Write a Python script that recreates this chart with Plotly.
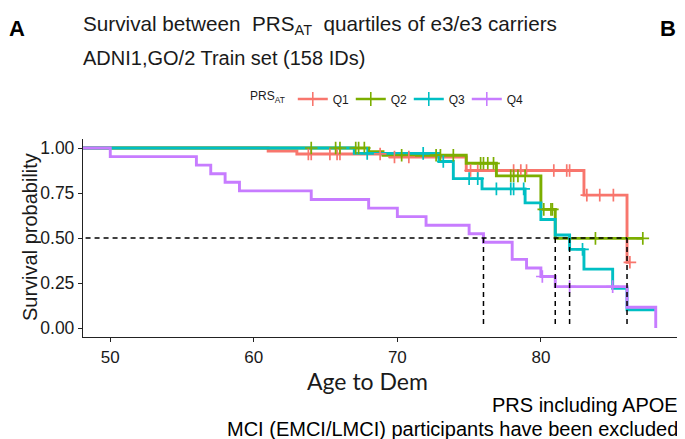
import numpy as np
import plotly.graph_objects as go

# ---------------- data ----------------
groups = ["Q1", "Q2", "Q3", "Q4"]
colors = ["#F8766D", "#7CAE00", "#00BFC4", "#C77CFF"]

q1_times = [0, 61, 63, 69.5, 74.8, 83, 86]
q1_surv = [1.0, 0.983, 0.967, 0.950, 0.875, 0.738, 0.365]
q1_end = 86.2
q1_censor = [63.8, 64.0, 65.3, 65.8, 66.0, 68.8, 69.8, 70.8, 75.1, 75.6, 78.1,
             78.6, 79.0, 80.9, 81.8, 82.0, 83.2, 84.1, 85.05, 86.2]

q2_times = [0, 68, 69, 74.8, 76.9, 80, 81]
q2_surv = [1.0, 0.98, 0.96, 0.915, 0.845, 0.659, 0.498]
q2_end = 87.1
q2_censor = [64.0, 65.7, 66.0, 67.1, 67.3, 67.7, 70.3, 72.7, 73.0, 73.9, 75.8,
             76.0, 76.3, 76.7, 77.9, 78.1, 78.4, 78.9, 80.2, 80.7, 80.8, 83.8, 87.1]

q3_times = [0, 67, 72.9, 73.9, 75.9, 78.9, 80, 81, 82, 83, 85, 86]
q3_surv = [1.0, 0.97, 0.925, 0.83, 0.773, 0.695, 0.603, 0.517, 0.437, 0.327, 0.221, 0.101]
q3_end = 88
q3_censor = [67.9, 71.8, 73.2, 75.0, 75.6, 76.9, 77.9, 78.1, 78.8, 82.9]

q4_times = [0, 50, 56, 57, 58, 59, 64, 68, 70, 72, 75, 76, 78, 79, 80, 81, 86, 88]
q4_surv = [1.0, 0.952, 0.905, 0.857, 0.810, 0.762, 0.714, 0.666, 0.619, 0.571,
           0.524, 0.476, 0.381, 0.333, 0.286, 0.23, 0.115, 0.0]
q4_end = 88
q4_censor = [80.1, 82.0, 85.0]

median_times = [76, 81, 82, 86]
median_level = 0.5

x_ticks = [50, 60, 70, 80]
y_ticks = [0, 0.25, 0.5, 0.75, 1.0]
y_ticklabels = ["0.00", "0.25", "0.50", "0.75", "1.00"]

series = [
    (q1_times, q1_surv, q1_end, q1_censor),
    (q2_times, q2_surv, q2_end, q2_censor),
    (q3_times, q3_surv, q3_end, q3_censor),
    (q4_times, q4_surv, q4_end, q4_censor),
]

# ---------------- layout geometry ----------------
# the page shows the figure offset by the 8px body margin
OFF = 8
W, H = 685 - OFF, 439 - OFF
PL, PR, PT, PB = 83, 683, 139, 337          # plot area in page pixels
ML, MT = PL - OFF, PT - OFF
MR, MB = W - (PR - OFF), H - (PB - OFF)
PW, PH = PR - PL, PB - PT


def px(x):
    return (x - PL) / PW


def py(y):
    return (PB - y) / PH


fig = go.Figure()

# curves
for name, col, (t, s, end, cens) in zip(groups, colors, series):
    xs = list(t) + [end]
    ys = list(s) + [s[-1]]
    fig.add_trace(go.Scatter(x=xs, y=ys, mode="lines", line=dict(color=col, width=2.9, shape="hv"),
                             showlegend=False, hoverinfo="skip"))

# censor marks
for name, col, (t, s, end, cens) in zip(groups, colors, series):
    idx = np.searchsorted(np.array(t), np.array(cens), side="right") - 1
    cy = np.array(s)[idx]
    fig.add_trace(go.Scatter(x=cens, y=cy, mode="markers",
                             marker=dict(symbol="cross-thin", size=9, line=dict(color=col, width=1.7)),
                             showlegend=False, hoverinfo="skip"))

# median lines
mx, my = [0, max(median_times)], [median_level, median_level]
for m in median_times:
    mx += [None, m, m]
    my += [None, median_level, 0]
fig.add_trace(go.Scatter(x=mx, y=my, mode="lines", line=dict(color="black", width=1.5, dash="5px,4px"),
                         showlegend=False, hoverinfo="skip"))

# legend entries
for i, (name, col) in enumerate(zip(groups, colors)):
    fig.add_trace(go.Scatter(x=[None], y=[None], mode="lines+markers", name=name,
                             line=dict(color=col, width=2.4),
                             legendwidth=22 if i == len(groups) - 1 else None,
                             marker=dict(symbol="cross-thin", size=10, line=dict(color=col, width=1.6))))

FONT = "Liberation Sans, Arial, sans-serif"
TXT = "#1a1a1a"

fig.update_layout(
    width=W, height=H, autosize=False,
    margin=dict(l=ML, r=MR, t=MT, b=MB, pad=0),
    paper_bgcolor="white", plot_bgcolor="white",
    font=dict(family=FONT, color=TXT),
    showlegend=True,
    legend=dict(orientation="h", x=px(248), y=py(99), xanchor="left", yanchor="middle",
                title=dict(text="PRS<sub>AT</sub>", font=dict(size=12, color=TXT)),
                font=dict(size=12, color=TXT), itemwidth=30, entrywidth=13, tracegroupgap=0),
    xaxis=dict(range=[48.1, 89.9], tickvals=x_ticks, showline=True, linecolor="#222", linewidth=1.3,
               ticks="outside", ticklen=4, tickcolor="#222", tickwidth=1.1, showgrid=False, zeroline=False,
               tickfont=dict(size=17, color=TXT)),
    yaxis=dict(range=[-0.05, 1.05], tickvals=y_ticks, ticktext=y_ticklabels, showline=True,
               linecolor="#222", linewidth=1.3, ticks="outside", ticklen=4, tickcolor="#222", tickwidth=1.1,
               showgrid=False, zeroline=False, tickfont=dict(size=17.5, color=TXT)),
)

ann = [
    dict(text="<b>A</b>", x=px(17), y=py(28), font=dict(size=22, color="black")),
    dict(text="<b>B</b>", x=px(668), y=py(28), font=dict(size=22, color="black")),
    dict(text="Survival between  PRS<sub>AT</sub>  quartiles of e3/e3 carriers", x=px(81), y=py(25),
         xanchor="left", font=dict(size=20.7, color=TXT)),
    dict(text="ADNI1,GO/2 Train set (158 IDs)", x=px(81), y=py(58), xanchor="left",
         font=dict(size=20, color=TXT)),
    dict(text="Survival probability", x=px(30), y=py(237), textangle=-90, font=dict(size=20, color=TXT)),
    dict(text="Age to Dem", x=px(367), y=py(381), font=dict(size=23, color=TXT, family="Lato, sans-serif")),
    dict(text="PRS including APOE", x=px(680), y=py(405), xanchor="right", font=dict(size=20, color="black")),
    dict(text="MCI (EMCI/LMCI) participants have been excluded", x=px(680), y=py(429), xanchor="right",
         font=dict(size=20, color="black")),
]
for a in ann:
    a.setdefault("xanchor", "center")
    a.update(xref="paper", yref="paper", yanchor="middle", showarrow=False)
    fig.add_annotation(**a)

fig.write_html("out.html")
